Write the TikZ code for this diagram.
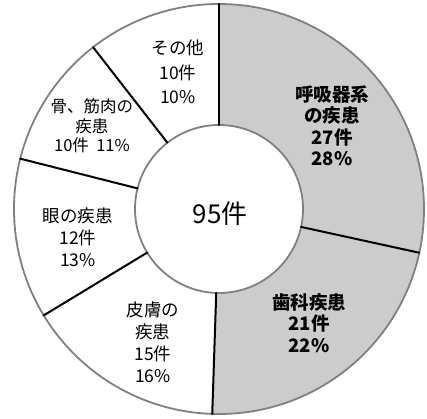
\documentclass[tikz,border=0pt]{standalone}
\usepackage{fontspec}
\newfontfamily\jp{Noto Sans CJK JP}
\usepackage{tikz}
\usepackage{tkz-euclide}
\usetikzlibrary{positioning}
\definecolor{accent}{rgb}{0.8,0.8,0.8}
\tikzset{
  lbl/.style={align=center,inner sep=0pt,font=\jp\fontsize{17.5}{22}\selectfont},
  lblb/.style={lbl,font=\jp\bfseries\fontsize{18.5}{21.5}\selectfont}
}

\begin{document}
\begin{tikzpicture}[x=1pt,y=1pt]
  \useasboundingbox (-219,-209) rectangle (208,209);

  \tkzDefPoint(0,0){O}

  \tkzDefPoint(90:205){o1}
  \tkzDefPoint(-12.32:205){o2}
  \tkzDefPoint(-91.89:205){o3}
  \tkzDefPoint(-148.74:205){o4}
  \tkzDefPoint(165.79:205){o5}
  \tkzDefPoint(127.89:205){o6}

  \tkzDefPoint(90:84){i1}
  \tkzDefPoint(-12.32:84){i2}
  \tkzDefPoint(-91.89:84){i3}
  \tkzDefPoint(-148.74:84){i4}
  \tkzDefPoint(165.79:84){i5}
  \tkzDefPoint(127.89:84){i6}

  \fill[accent] (o1) arc[start angle=90,end angle=-91.89,radius=205pt]
    -- (i3) arc[start angle=-91.89,end angle=90,radius=84pt] -- cycle;

  % Ring
  \tkzDrawCircle[line width=1.8pt](O,o1)
  \tkzDrawCircle[line width=1.8pt](O,i1)
  \tkzDrawSegments[line width=2pt](o1,i1 o2,i2 o3,i3 o4,i4 o5,i5 o6,i6)

  \node[lbl,font=\jp\fontsize{26}{30}\selectfont] (total) at (1,-5) {95件};
  \node[lblb] (resp) at (113,83) {呼吸器系\\の疾患\\27件\\28\%};
  \node[lblb] (dent) at (90,-114) {歯科疾患\\21件\\22\%};
  \node[lbl] (skin) at (-66,-133) {皮膚の\\疾患\\15件\\16\%};
  \node[lbl] (eye) at (-141,-28) {眼の疾患\\12件\\13\%};
  \node[lbl,font=\jp\fontsize{16.5}{19.5}\selectfont] (bone) at (-127,83) {骨、筋肉の\\疾患\\10件\ \ 11\%};
  \node[lbl,font=\jp\fontsize{17.5}{24.5}\selectfont] (other) at (-41,137) {その他\\10件\\10\%};

\end{tikzpicture}
\end{document}
